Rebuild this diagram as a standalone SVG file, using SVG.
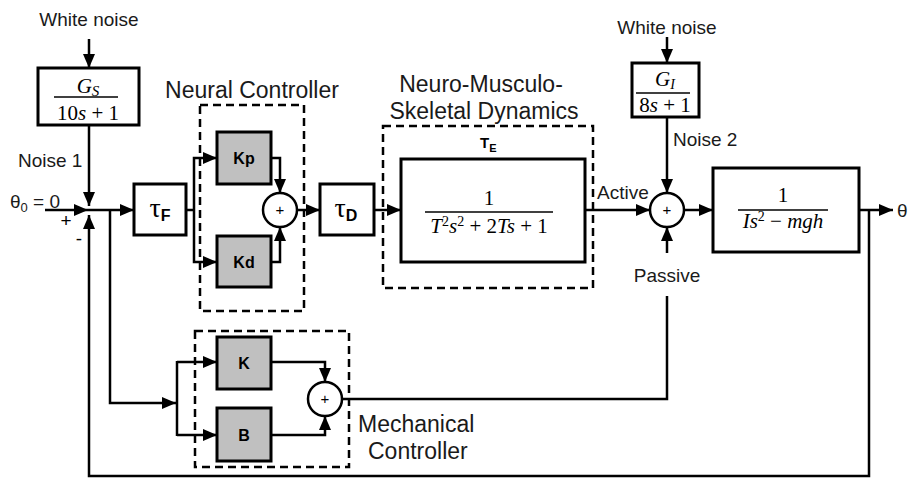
<svg xmlns="http://www.w3.org/2000/svg" width="910" height="479" viewBox="0 0 910 479">
<style>
.ln{fill:none;stroke:#000;stroke-width:2.5}
.ar{fill:none;stroke:#000;stroke-width:2.5;marker-end:url(#ah)}
.box{fill:#fff;stroke:#000;stroke-width:3}
.gbox{fill:#c0c0c0;stroke:#000;stroke-width:3}
.dash{fill:none;stroke:#000;stroke-width:2.5;stroke-dasharray:8 5}
.frac{stroke:#000;stroke-width:1.5}
.sum{fill:#fff;stroke:#000;stroke-width:2.5}
.lbl{font-family:"Liberation Sans",Arial,sans-serif;font-size:19px;fill:#1a1a1a}
.big{font-family:"Liberation Sans",Arial,sans-serif;font-size:23px;fill:#1a1a1a}
.bold{font-family:"Liberation Sans",Arial,sans-serif;font-size:16px;font-weight:bold;fill:#000}
.math{font-family:"Liberation Serif","Times New Roman",serif;font-size:21px;fill:#000}
.it{font-style:italic}
.plus{font-family:"Liberation Sans",Arial,sans-serif;font-size:15px;fill:#000}
.sign{font-family:"Liberation Sans",Arial,sans-serif;font-size:19px;fill:#000}
</style>
<defs>
<marker id="ah" markerWidth="14" markerHeight="12" refX="14" refY="6" orient="auto" markerUnits="userSpaceOnUse">
<path d="M0,0 L14,6 L0,12 z" fill="#000"/>
</marker>
</defs>

<g id="connectors">
<line class="ar" x1="89" y1="39" x2="89" y2="68"/>
<line class="ar" x1="89" y1="125" x2="89" y2="206"/>
<line class="ar" x1="45" y1="210" x2="88" y2="210"/>
<polyline class="ar" points="869,210 869,476 89,476 89,215"/>
<line class="ar" x1="88" y1="210" x2="134" y2="210"/>
<polyline class="ln" points="186,210 194,210"/>
<polyline class="ar" points="194,210 194,158 217,158"/>
<polyline class="ar" points="194,210 194,262 217,262"/>
<polyline class="ar" points="271,158 280,158 280,193"/>
<polyline class="ar" points="271,262 280,262 280,227"/>
<line class="ar" x1="297" y1="210" x2="320" y2="210"/>
<line class="ar" x1="374" y1="210" x2="401" y2="210"/>
<line class="ar" x1="585" y1="210" x2="650" y2="210"/>
<line class="ar" x1="667" y1="37" x2="667" y2="63"/>
<line class="ar" x1="667" y1="117" x2="667" y2="193"/>
<line class="ar" x1="667" y1="253" x2="667" y2="227"/>
<line class="ar" x1="684" y1="210" x2="713" y2="210"/>
<line class="ar" x1="859" y1="210" x2="893" y2="210"/>
<polyline class="ar" points="110,210 110,403 176,403"/>
<line class="ln" x1="177" y1="361" x2="177" y2="436"/>
<line class="ar" x1="177" y1="362" x2="217" y2="362"/>
<line class="ar" x1="177" y1="435" x2="217" y2="435"/>
<polyline class="ar" points="271,362 325,362 325,382"/>
<polyline class="ar" points="271,435 325,435 325,416"/>
<polyline class="ln" points="342,399 667,399 667,296"/>
</g>

<g id="labels">
<text class="lbl" x="89" y="26" text-anchor="middle">White noise</text>
<text class="lbl" x="18" y="167">Noise 1</text>
<text class="lbl" x="10" y="208">θ<tspan font-size="13" dy="4">0</tspan><tspan dy="-4"> = 0</tspan></text>
<text class="sign" x="66" y="227" text-anchor="middle">+</text>
<text class="sign" x="79" y="245" text-anchor="middle">-</text>
<text class="lbl" x="667" y="34" text-anchor="middle">White noise</text>
<text class="lbl" x="673" y="146">Noise 2</text>
<text class="lbl" x="597" y="199">Active</text>
<text class="lbl" x="667" y="282" text-anchor="middle">Passive</text>
<text class="lbl" x="897" y="217">θ</text>
</g>

<g id="noise1-filter">
<rect class="box" x="38" y="68" width="101" height="57"/>
<text class="math" x="88" y="93" text-anchor="middle"><tspan class="it">G</tspan><tspan class="it" font-size="15" dy="3">S</tspan></text>
<line class="frac" x1="54" y1="97" x2="118" y2="97"/>
<text class="math" x="88" y="120" text-anchor="middle">10<tspan class="it">s</tspan> + 1</text>
</g>

<g id="tauF">
<rect class="box" x="134" y="184" width="52" height="51"/>
<text x="160" y="217" text-anchor="middle"><tspan font-family="Liberation Serif,serif" font-size="28">τ</tspan><tspan font-family="Liberation Sans,sans-serif" font-weight="bold" font-size="16" dy="4">F</tspan></text>
</g>

<g id="neural-controller">
<rect class="dash" x="200" y="105" width="104" height="206"/>
<text class="big" x="252" y="98" text-anchor="middle">Neural Controller</text>
</g>

<g id="Kp">
<rect class="gbox" x="217" y="132" width="54" height="52"/>
<text class="bold" x="244" y="164" text-anchor="middle">Kp</text>
</g>
<g id="Kd">
<rect class="gbox" x="217" y="236" width="54" height="51"/>
<text class="bold" x="244" y="268" text-anchor="middle">Kd</text>
</g>
<g id="sum-neural">
<circle class="sum" cx="280" cy="210" r="17"/>
<text class="plus" x="280" y="215" text-anchor="middle">+</text>
</g>

<g id="tauD">
<rect class="box" x="320" y="184" width="54" height="51"/>
<text x="346" y="217" text-anchor="middle"><tspan font-family="Liberation Serif,serif" font-size="28">τ</tspan><tspan font-family="Liberation Sans,sans-serif" font-weight="bold" font-size="16" dy="4">D</tspan></text>
</g>

<g id="nms-dynamics">
<rect class="dash" x="383" y="126" width="210" height="162"/>
<text class="big" x="481" y="92" text-anchor="middle">Neuro-Musculo-</text>
<text class="big" x="484" y="119" text-anchor="middle">Skeletal Dynamics</text>
<text x="480" y="148" font-family="Liberation Sans,sans-serif" font-weight="bold" font-size="15">T<tspan font-size="11" dy="4">E</tspan></text>
<rect class="box" x="401" y="159" width="184" height="103"/>
<text class="math" x="489" y="205" text-anchor="middle">1</text>
<line class="frac" x1="425" y1="212" x2="553" y2="212"/>
<text class="math" x="489" y="233" text-anchor="middle"><tspan class="it">T</tspan><tspan font-size="14" dy="-7">2</tspan><tspan class="it" dy="7">s</tspan><tspan font-size="14" dy="-7">2</tspan><tspan dy="7"> + 2</tspan><tspan class="it">Ts</tspan> + 1</text>
</g>

<g id="noise2-filter">
<rect class="box" x="632" y="63" width="67" height="54"/>
<text class="math" x="665" y="86" text-anchor="middle"><tspan class="it">G</tspan><tspan class="it" font-size="14" dy="3">I</tspan></text>
<line class="frac" x1="636" y1="93" x2="690" y2="93"/>
<text class="math" x="665" y="112" text-anchor="middle">8<tspan class="it">s</tspan> + 1</text>
</g>

<g id="sum-torque">
<circle class="sum" cx="667" cy="210" r="17"/>
<text class="plus" x="667" y="215" text-anchor="middle">+</text>
</g>

<g id="body-dynamics">
<rect class="box" x="713" y="168" width="146" height="84"/>
<text class="math" x="783" y="202" text-anchor="middle">1</text>
<line class="frac" x1="738" y1="210" x2="828" y2="210"/>
<text class="math" x="783" y="228" text-anchor="middle"><tspan class="it">Is</tspan><tspan font-size="14" dy="-7">2</tspan><tspan dy="7"> − </tspan><tspan class="it">mgh</tspan></text>
</g>

<g id="mechanical-controller">
<rect class="dash" x="195" y="331" width="154" height="136"/>
<text class="big" x="358" y="432">Mechanical</text>
<text class="big" x="368" y="459">Controller</text>
</g>
<g id="K">
<rect class="gbox" x="217" y="337" width="54" height="52"/>
<text class="bold" x="244" y="369" text-anchor="middle">K</text>
</g>
<g id="B">
<rect class="gbox" x="217" y="408" width="54" height="53"/>
<text class="bold" x="244" y="441" text-anchor="middle">B</text>
</g>
<g id="sum-mech">
<circle class="sum" cx="325" cy="399" r="17"/>
<text class="plus" x="325" y="404" text-anchor="middle">+</text>
</g>
</svg>
